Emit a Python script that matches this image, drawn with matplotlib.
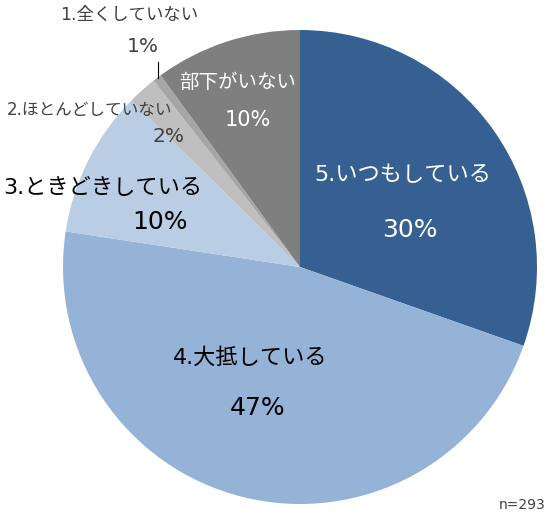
import matplotlib
matplotlib.use('Agg')
import matplotlib.pyplot as plt

plt.rcParams['font.family'] = ['DejaVu Sans', 'Noto Sans CJK JP']

# データ（時計回り、上から）
categories = ['5.いつもしている', '4.大抵している', '3.ときどきしている',
              '2.ほとんどしていない', '1.全くしていない', '部下がいない']
values = [30.4, 47.0, 10.0, 2.0, 0.6, 10.0]
pct_labels = ['30%', '47%', '10%', '2%', '1%', '10%']
colors = ['#376092', '#95B3D7', '#B9CDE5', '#BFBFBF', '#A6A6A6', '#7F7F7F']
n_label = 'n=293'

fig = plt.figure(figsize=(5.56, 5.23), dpi=100)
ax = fig.add_axes([0, 0, 1, 1])

ax.pie(values, colors=colors, startangle=90, counterclock=False,
       center=(300, 256), radius=237, wedgeprops=dict(linewidth=0))
# pie() が範囲を上書きするので後で設定
ax.set_xlim(0, 556)
ax.set_ylim(0, 523)
ax.set_aspect('equal')
ax.axis('off')

# ラベル（画素座標、yは下から）: x1, y1, x2, y2, 色, ラベルサイズ, %サイズ
txt = [
    (403, 348, 410, 293, 'white', 16, 18),     # 5
    (250, 165, 258, 115, 'black', 16, 18),     # 4
    (103, 335, 160, 301, 'black', 16, 18),     # 3
    (90, 413, 168, 386, '#404040', 12, 14.5),  # 2
    (129, 508, 143, 476, '#404040', 12.5, 14.5),  # 1
    (238, 441, 248, 403, 'white', 14, 15),     # 部下
]
for (x1, y1, x2, y2, c, fs1, fs2), cat, p in zip(txt, categories, pct_labels):
    ax.text(x1, y1, cat, color=c, fontsize=fs1, ha='center', va='center')
    ax.text(x2, y2, p, color=c, fontsize=fs2, ha='center', va='center')

# 1% のリーダー線
ax.plot([158, 158], [461, 445], color='black', linewidth=0.8)

ax.text(546, 18, n_label, fontsize=10, ha='right', va='center', color='#404040')

fig.savefig('out.png', dpi=100)
plt.close(fig)
